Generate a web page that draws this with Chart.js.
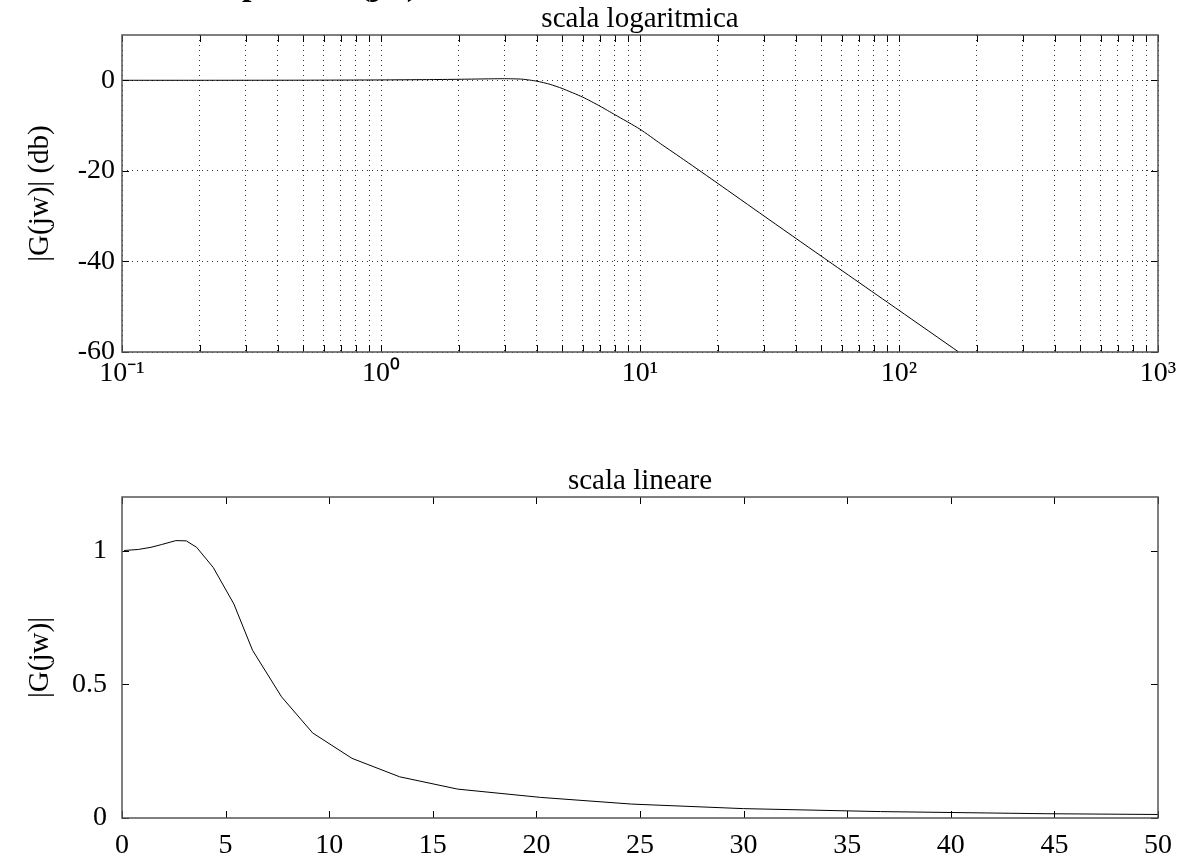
<!DOCTYPE html>
<html>
<head>
<meta charset="utf-8">
<title>Esempio di G(jw)</title>
<script src="https://cdn.jsdelivr.net/npm/chart.js@4.4.1/dist/chart.umd.min.js"></script>
<style>
  body { margin: 0; background: #fff; }
  #wrap { position: relative; width: 1184px; height: 853px; }
  canvas { position: absolute; left: 0; }
  #logChart { top: 0; }
  #linChart { top: 400px; }
</style>
</head>
<body>
<div id="wrap">
  <canvas id="logChart" width="1184" height="400"></canvas>
  <canvas id="linChart" width="1184" height="453"></canvas>
</div>
<script>
// top plot: magnitude in dB vs frequency (log scale)
const logFreq = [0.1, 0.2, 0.5, 1, 1.5, 2, 2.5, 3, 3.5, 4, 4.5, 5, 6, 7, 8, 10, 12, 15, 20, 30, 50, 100, 170];
const logMagDb = [0, 0, 0.02, 0.08, 0.15, 0.22, 0.3, 0.35, 0.25, -0.2, -0.9, -1.8, -3.7, -5.7, -7.6, -10.8, -14.0, -17.8, -22.8, -29.9, -38.8, -50.8, -60];

// bottom plot: magnitude vs frequency (linear scale)
const linFreq = [0.1, 0.8, 1.4, 1.9, 2.6, 3.1, 3.6, 4.4, 5.4, 6.3, 7.7, 9.2, 11.1, 13.4, 16.2, 20.2, 24.6, 30, 36.6, 44.6, 54];
const linMag = [1.0, 1.004, 1.012, 1.022, 1.037, 1.036, 1.012, 0.937, 0.80, 0.627, 0.453, 0.318, 0.223, 0.154, 0.108, 0.077, 0.052, 0.035, 0.024, 0.016, 0.011];

// ticks
const decades = [0.1, 1, 10, 100];
const logXTicks = [];
decades.forEach(d => { for (let k = 1; k <= 9; k++) logXTicks.push(+(d * k).toPrecision(3)); });
logXTicks.push(1000);
const decadeLabels = { 0.1: '10\u207B\u00B9', 1: '10\u2070', 10: '10\u00B9', 100: '10\u00B2', 1000: '10\u00B3' };
const logYTicks = [-60, -40, -20, 0];
const linXTicks = [0, 5, 10, 15, 20, 25, 30, 35, 40, 45, 50];
const linYTicks = [0, 0.5, 1];

const serif = '"Liberation Serif", "Times New Roman", serif';

// box round the plot area, inward tick marks and the small title above it
const frame = {
  id: 'frame',
  afterDraw(chart, args, opts) {
    const { ctx, chartArea: a, scales } = chart;
    const L = 7;
    ctx.save();
    ctx.strokeStyle = '#000';
    ctx.lineWidth = 1;
    ctx.beginPath();
    scales.x.ticks.forEach(t => {
      const px = Math.round(scales.x.getPixelForValue(t.value)) + 0.5;
      ctx.moveTo(px, a.bottom); ctx.lineTo(px, a.bottom - L);
      ctx.moveTo(px, a.top); ctx.lineTo(px, a.top + L);
    });
    scales.y.ticks.forEach(t => {
      const py = Math.round(scales.y.getPixelForValue(t.value)) + 0.5;
      ctx.moveTo(a.left, py); ctx.lineTo(a.left + L, py);
      ctx.moveTo(a.right, py); ctx.lineTo(a.right - L, py);
    });
    ctx.stroke();
    ctx.strokeStyle = '#555';
    ctx.lineWidth = 1.5;
    ctx.strokeRect(a.left, a.top, a.right - a.left, a.bottom - a.top);
    ctx.fillStyle = '#000';
    ctx.font = '29px ' + serif;
    ctx.textAlign = 'center';
    ctx.textBaseline = 'alphabetic';
    ctx.fillText(opts.text, (a.left + a.right) / 2, a.top - 8);
    if (opts.heading) {
      // page heading, mostly cut off by the top edge as in the original
      ctx.font = 'bold 34px ' + serif;
      ctx.textAlign = 'right';
      ctx.fillText(opts.heading, 418, -5);
    }
    ctx.restore();
  }
};

function fixTicks(list) {
  return function (scale) { scale.ticks = list.map(v => ({ value: v })); };
}

new Chart(document.getElementById('logChart').getContext('2d'), {
  type: 'line',
  data: {
    datasets: [{
      data: logFreq.map((f, i) => ({ x: f, y: logMagDb[i] })),
      borderColor: '#000',
      borderWidth: 1,
      pointRadius: 0,
      tension: 0.2,
      fill: false
    }]
  },
  options: {
    responsive: false,
    animation: false,
    layout: { padding: { left: 0, right: 26, top: 35, bottom: 0 } },
    plugins: {
      legend: { display: false },
      tooltip: { enabled: false },
      frame: { text: 'scala logaritmica', heading: 'Esempio di G(j\u03C9)' }
    },
    scales: {
      x: {
        type: 'logarithmic',
        min: 0.1,
        max: 1000,
        afterBuildTicks: fixTicks(logXTicks),
        afterFit(scale) { scale.height = 48; },
        grid: { color: '#333', lineWidth: 1, drawTicks: false },
        border: { display: false, dash: [1, 4] },
        ticks: {
          autoSkip: false,
          maxRotation: 0,
          padding: 5,
          color: '#000',
          font: { family: serif, size: 28 },
          callback: v => decadeLabels[v] || ''
        }
      },
      y: {
        min: -60,
        max: 10,
        afterBuildTicks: fixTicks(logYTicks),
        afterFit(scale) { scale.width = 122; },
        grid: { color: '#333', lineWidth: 1, drawTicks: false },
        border: { display: false, dash: [1, 4] },
        title: { display: true, text: '|G(jw)| (db)', color: '#000', font: { family: serif, size: 29 }, padding: { top: 23, bottom: 0 } },
        ticks: { padding: 7, color: '#000', font: { family: serif, size: 28 } }
      }
    }
  },
  plugins: [frame]
});

new Chart(document.getElementById('linChart').getContext('2d'), {
  type: 'line',
  data: {
    datasets: [{
      data: linFreq.map((f, i) => ({ x: f, y: linMag[i] })),
      borderColor: '#000',
      borderWidth: 1,
      pointRadius: 0,
      tension: 0,
      fill: false
    }]
  },
  options: {
    responsive: false,
    animation: false,
    layout: { padding: { left: 0, right: 26, top: 97, bottom: 0 } },
    plugins: {
      legend: { display: false },
      tooltip: { enabled: false },
      frame: { text: 'scala lineare' }
    },
    scales: {
      x: {
        type: 'linear',
        min: 0,
        max: 50,
        afterBuildTicks: fixTicks(linXTicks),
        afterFit(scale) { scale.height = 35; },
        grid: { display: false },
        border: { display: false },
        ticks: { maxRotation: 0, padding: 3, color: '#000', font: { family: serif, size: 28 } }
      },
      y: {
        min: 0,
        max: 1.2,
        afterBuildTicks: fixTicks(linYTicks),
        afterFit(scale) { scale.width = 122; },
        grid: { display: false },
        border: { display: false },
        title: { display: true, text: '|G(jw)|', color: '#000', font: { family: serif, size: 29 }, padding: { top: 23, bottom: 0 } },
        ticks: { padding: 7, color: '#000', font: { family: serif, size: 28 }, callback: v => String(v) }
      }
    }
  },
  plugins: [frame]
});
</script>
</body>
</html>
